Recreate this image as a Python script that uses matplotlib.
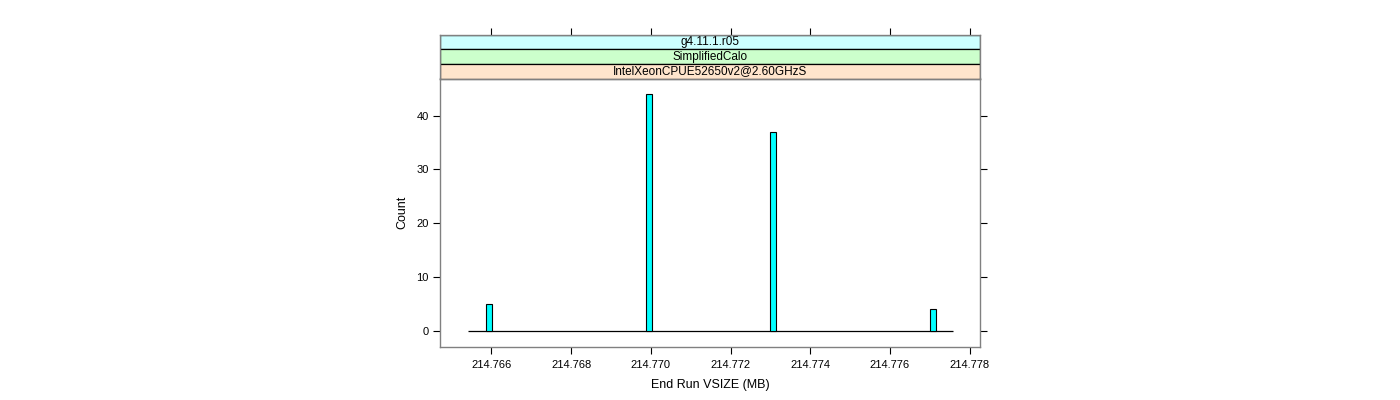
import matplotlib
matplotlib.use("Agg")
import matplotlib.pyplot as plt
from matplotlib.patches import Rectangle

plt.rcParams['font.family'] = ['Liberation Sans', 'DejaVu Sans']

# datos del histograma
bin_centers = [214.76593, 214.76995, 214.77306, 214.77708]
counts = [5, 44, 37, 4]
bin_width = 0.000155
hist_range = [214.76541, 214.77758]

strip_labels = ["g4.11.1.r05", "SimplifiedCalo", "IntelXeonCPUE52650v2@2.60GHzS"]
strip_colors = ["#CCFFFF", "#CCFFCC", "#FFE5CC"]

xticks = [214.766, 214.768, 214.770, 214.772, 214.774, 214.776, 214.778]
yticks = [0, 10, 20, 30, 40]
xlim = (214.76471, 214.77826)
ylim = (-2.98, 46.9)

W, H = 1400, 400
fig = plt.figure(figsize=(14, 4), dpi=100)

# panel principal
ax = fig.add_axes([440 / W, 1 - 347 / H, 540 / W, (347 - 78.5) / H])
ax.bar(bin_centers, counts, width=bin_width, color="#00FFFF",
       edgecolor="black", linewidth=0.8, zorder=3)
ax.hlines(0, hist_range[0], hist_range[1], color="black", linewidth=0.9, zorder=2)
ax.set_xlim(xlim)
ax.set_ylim(ylim)
ax.set_xticks(xticks)
ax.set_xticklabels(["%.3f" % t for t in xticks], fontsize=8)
ax.set_yticks(yticks)
ax.set_yticklabels([str(t) for t in yticks], fontsize=8)
ax.tick_params(axis="both", direction="out", length=5, width=0.8, color="black", pad=3)
ax.tick_params(axis="x", pad=4)
ax.tick_params(axis="y", right=True)
for s in ax.spines.values():
    s.set_color("#808080")
    s.set_linewidth(1)
ax.set_xlabel("End Run VSIZE (MB)", fontsize=9, labelpad=7)
ax.set_ylabel("Count", fontsize=9, labelpad=6)

# tiras (strips) arriba del panel
sax = fig.add_axes([440 / W, 1 - 78.5 / H, 540 / W, (78.5 - 34.7) / H])
sax.set_xlim(xlim)
sax.set_ylim(0, 3)
sax.set_yticks([])
sax.set_xticks(xticks)
sax.tick_params(axis="x", bottom=False, top=True, labelbottom=False,
                direction="out", length=5, width=0.8, color="black")
for i, (lab, col) in enumerate(zip(strip_labels, strip_colors)):
    y0 = 2 - i
    sax.add_patch(Rectangle((0, y0 / 3), 1, 1 / 3, transform=sax.transAxes,
                            facecolor=col, edgecolor="black", linewidth=0.9))
    sax.text(0.5, (y0 + 0.5) / 3, lab, transform=sax.transAxes,
             ha="center", va="center", fontsize=8.5)
for s in sax.spines.values():
    s.set_color("#808080")
    s.set_linewidth(1)
    s.set_zorder(5)

fig.savefig("out.png", dpi=100)
